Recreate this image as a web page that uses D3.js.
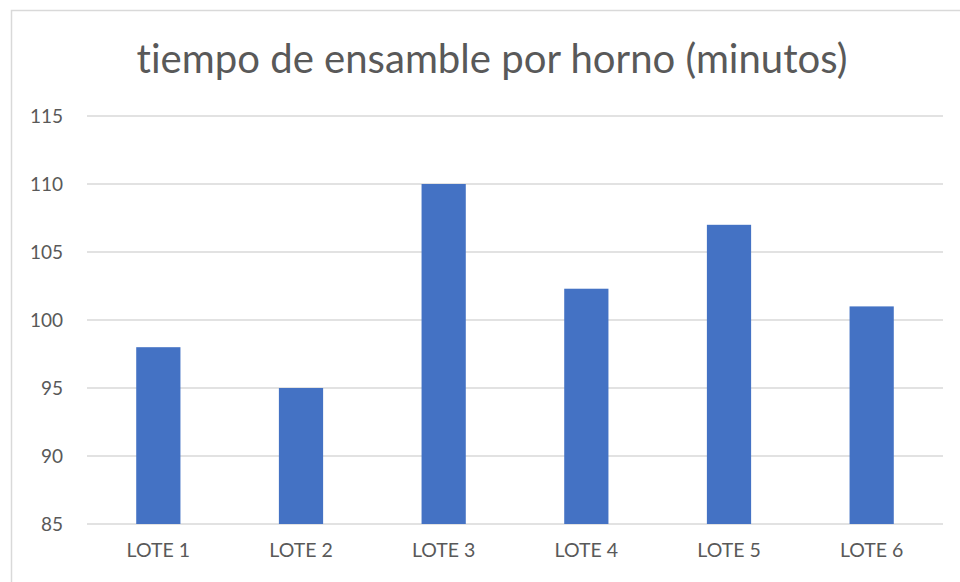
<!DOCTYPE html>
<html><head><meta charset="utf-8">
<script src="https://cdn.jsdelivr.net/npm/d3@7"></script>
<style>body{margin:0;background:#fff}svg{display:block}text{font-variant-ligatures:none;font-feature-settings:"liga" 0}</style>
</head><body>
<script>
const categories = ["LOTE 1","LOTE 2","LOTE 3","LOTE 4","LOTE 5","LOTE 6"];
const values = [98, 95, 110, 102.3, 107, 101];
const yTicks = [85, 90, 95, 100, 105, 110, 115];
const title = "tiempo de ensamble por horno (minutos)";

(function(){
const W = 960, H = 582;
const svg = d3.select("body").append("svg").attr("width", W).attr("height", H);
const font = "Lato, 'Open Sans', sans-serif";

// outer chart border
svg.append("rect").attr("x", 11.5).attr("y", 10.5).attr("width", 980).attr("height", 600)
  .attr("fill", "none").attr("stroke", "#d9d9d9").attr("stroke-width", 1.5);

const pLeft = 87, pRight = 943, pTop = 116, pBottom = 524;
const x = d3.scaleBand().domain(categories).range([pLeft, pRight]).paddingInner(0.69).paddingOuter(0.345);
const y = d3.scaleLinear().domain([85, 115]).range([pBottom, pTop]);

// gridlines
svg.append("g").selectAll("line").data(yTicks).join("line")
  .attr("x1", pLeft).attr("x2", pRight)
  .attr("y1", d => y(d)).attr("y2", d => y(d))
  .attr("stroke", "#d9d9d9").attr("stroke-width", 1.5);

// y axis labels
const yAxis = d3.axisLeft(y).tickValues(yTicks).tickSize(0).tickPadding(0);
const gy = svg.append("g").attr("transform", `translate(63,0)`).call(yAxis);
gy.select(".domain").remove();
gy.selectAll("text").attr("font-family", font).attr("font-size", 19).attr("fill", "#595959");

// bars
svg.append("g").selectAll("rect").data(values).join("rect")
  .attr("x", (d, i) => x(categories[i]))
  .attr("width", x.bandwidth())
  .attr("y", d => y(d))
  .attr("height", d => y(85) - y(d))
  .attr("fill", "#4472c4");

// x axis labels
const xAxis = d3.axisBottom(x).tickSize(0).tickPadding(0);
const gx = svg.append("g").attr("transform", `translate(0,${pBottom + 19})`).call(xAxis);
gx.select(".domain").remove();
gx.selectAll("text").attr("font-family", font).attr("font-size", 19.5).attr("fill", "#595959").attr("dy", "0.71em");

// title
const t = svg.append("text").attr("x", 492).attr("y", 73).attr("text-anchor", "middle")
  .attr("font-family", font).attr("font-size", 34).attr("fill", "#595959").text(title);
const len = t.node().getComputedTextLength();
t.attr("font-size", 34 * 711 / len);
})();
</script>
</body></html>
